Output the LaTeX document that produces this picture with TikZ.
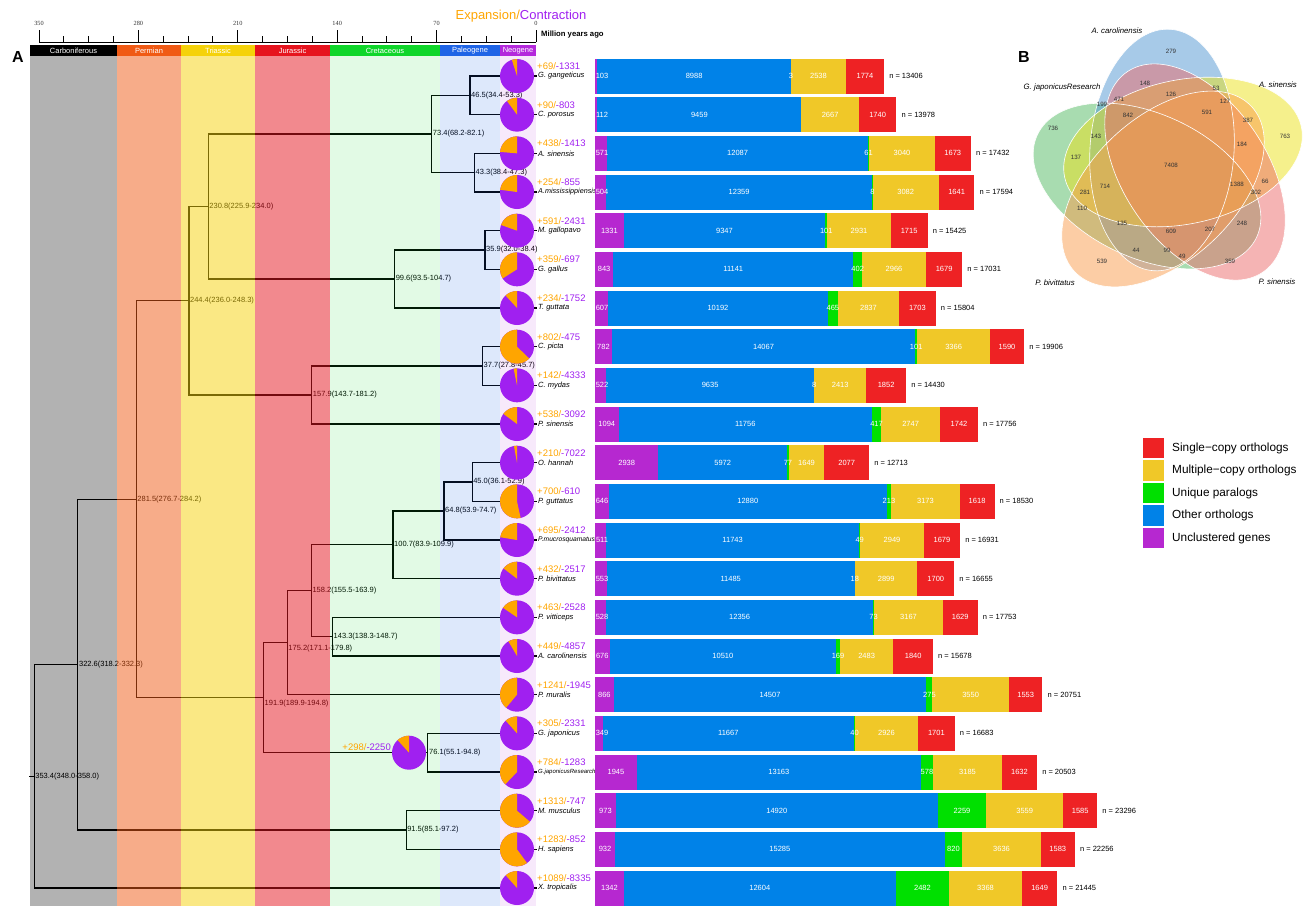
\documentclass[tikz,border=0pt]{standalone}
\usepackage{fontspec}
\setmainfont{Liberation Sans}
\newfontfamily\serifaxis{Liberation Serif}
\definecolor{piepu}{RGB}{160,32,240}
\definecolor{pieor}{RGB}{255,165,0}
\definecolor{uncl}{RGB}{182,40,208}
\definecolor{other}{RGB}{0,130,232}
\definecolor{uniq}{RGB}{0,224,0}
\definecolor{multi}{RGB}{240,200,40}
\definecolor{single}{RGB}{238,34,36}
\definecolor{perm}{RGB}{240,90,20}
\definecolor{tria}{RGB}{245,210,10}
\definecolor{jura}{RGB}{230,20,30}
\definecolor{cret}{RGB}{15,214,42}
\definecolor{pale}{RGB}{30,100,230}
\definecolor{neog}{RGB}{180,40,220}
\definecolor{vblue}{RGB}{80,150,210}
\definecolor{vyellow}{RGB}{235,225,25}
\definecolor{vgreen}{RGB}{81,185,97}
\definecolor{vpink}{RGB}{235,105,105}
\definecolor{vorange}{RGB}{249,155,75}
\begin{document}
\begin{tikzpicture}[x=1pt,y=-1pt,
  branch/.style={line width=1.1pt},
  nodelab/.style={anchor=west,inner sep=1pt,font=\fontsize{7.5}{8}\selectfont},
  explab/.style={anchor=west,inner sep=0pt,font=\fontsize{9.5}{10}\selectfont},
  splab/.style={anchor=west,inner sep=1pt},
  barnum/.style={text=white,inner sep=0pt,font=\fontsize{7.5}{8}\selectfont},
  nlab/.style={anchor=west,inner sep=0pt,font=\fontsize{7.5}{8}\selectfont},
  period/.style={text=white,inner sep=0pt,font=\fontsize{7.5}{8}\selectfont},
  ticklab/.style={text=black!80,inner sep=0pt,font=\serifaxis\fontsize{6.3}{7}\selectfont},
  leglab/.style={anchor=west,inner sep=0pt,font=\fontsize{11.8}{13}\selectfont},
  vnum/.style={text=black!80,inner sep=0pt,font=\fontsize{6.2}{7}\selectfont},
  vset/.style={inner sep=0pt,font=\itshape\fontsize{7.8}{8}\selectfont},
  panel/.style={inner sep=0pt,font=\bfseries\fontsize{16}{17}\selectfont}]
\useasboundingbox (0,0) rectangle (1306,906);
% leaves and dated nodes
\foreach \n/\r in {ggan/1,cpor/2,asin/3,amis/4,mgal/5,ggal/6,tgut/7,cpic/8,cmyd/9,psin/10,ohan/11,
  pgut/12,pmuc/13,pbiv/14,pvit/15,acar/16,pmur/17,gjap/18,gjar/19,mmus/20,hsap/21,xtro/22}
  \coordinate (\n) at (537,{76+(\r-1)*38.667});
\foreach \n/\t/\y/\ci/\dy in {n353/353.4/776.3/348.0-358.0/0, n322/322.6/664.6/318.2-332.3/0,
  n281/281.5/499.2/276.7-284.2/0, n244/244.4/300.8/236.0-248.3/0, n230/230.8/206.5/225.9-234.0/0,
  n157/157.9/395/143.7-181.2/0, n191/191.9/697.7/189.9-194.8/6, n175/175.2/642.7/171.1-179.8/6,
  n158/158.2/590.8/155.5-163.9/0, n143/143.3/636.7/138.3-148.7/0, n100/100.7/544.8/83.9-109.9/0,
  n99/99.6/279/93.5-104.7/0, n91/91.5/830/85.1-97.2/0, n76/76.1/752.7/55.1-94.8/0,
  n73/73.4/134/68.2-82.1/0, n64/64.8/511/53.9-74.7/0, n46/46.5/95.3/34.4-53.3/0,
  n45/45.0/482/36.1-52.9/0, n43/43.3/172.7/38.4-47.3/0, n37/37.7/366/27.8-45.7/0,
  n35/35.9/250/32.0-38.4/0}{
  \coordinate (\n) at ({536-1.42*\t},\y);
  \node[nodelab] (l\n) at ([yshift=-\dy pt]\n) {\t(\ci)};
}
\foreach \p/\c in {n353/n322, n353/xtro, n322/n281, n322/n91, n91/mmus, n91/hsap, n281/n244,
  n281/n191, n244/n230, n244/n157, n230/n73, n230/n99, n73/n46, n73/n43, n46/ggan, n46/cpor,
  n43/asin, n43/amis, n99/n35, n99/tgut, n35/mgal, n35/ggal, n157/n37, n157/psin, n37/cpic,
  n37/cmyd, n191/n175, n191/n76, n175/n158, n175/pmur, n158/n100, n158/n143, n100/n64,
  n100/pbiv, n64/n45, n64/pmuc, n45/ohan, n45/pgut, n143/pvit, n143/acar, n76/gjap, n76/gjar}
  \draw[branch] (\p) |- (\c);
\draw[branch] (n353) -- ++(-5,0);
% geological time scale
\foreach \xa/\xb/\col/\op/\nm in {30/117/black/.3/Carboniferous, 117/181/perm/.5/Permian,
  181/255/tria/.5/Triassic, 255/330/jura/.5/Jurassic, 330/440/cret/.12/Cretaceous,
  440/500/pale/.15/Paleogene, 500/536/neog/.1/Neogene}{
  \fill[\col,opacity=\op] (\xa,56) rectangle (\xb,906);
  \fill[\col] (\xa,45) rectangle (\xb,56);
  \node[period] (p\nm) at ({(\xa+\xb)/2},50.5) {\nm};
}
\draw[line width=1pt] (39,42) -- (536,42);
\foreach \t in {0,17.5,...,350}
  \draw[line width=1pt] ({536-1.42*\t},42) -- ++(0,-6);
\foreach \t in {0,70,...,350}{
  \draw[line width=1pt] ({536-1.42*\t},42) -- ++(0,-12);
  \node[ticklab] (t\t) at ({536-1.42*\t},23) {\t};
}
\node[anchor=west,inner sep=0pt,font=\bfseries\fontsize{7.7}{8}\selectfont] (mya) at (541,35) {Million years ago};
\node[inner sep=0pt,font=\fontsize{13}{14}\selectfont] (title) at (521,16)
  {\textcolor{pieor}{Expansion/}\textcolor{piepu}{Contraction}};
\node[panel] (pA) at (18,57) {A};
\node[panel] (pB) at (1024,57) {B};
% pies with gains and losses
\foreach \n/\e/\k/\spn/\fs in {ggan/69/1331/G. gangeticus/7.5, cpor/90/803/C. porosus/7.5,
  asin/438/1413/A. sinensis/7.5, amis/254/855/A.mississippiensis/7.2, mgal/591/2431/M. gallopavo/7.5,
  ggal/359/697/G. gallus/7.5, tgut/234/1752/T. guttata/7.5, cpic/802/475/C. picta/7.5,
  cmyd/142/4333/C. mydas/7.5, psin/538/3092/P. sinensis/7.5, ohan/210/7022/O. hannah/7.5,
  pgut/700/610/P. guttatus/7.5, pmuc/695/2412/P.mucrosquamatus/6.7, pbiv/432/2517/P. bivittatus/7.5,
  pvit/463/2528/P. vitticeps/7.5, acar/449/4857/A. carolinensis/7.5, pmur/1241/1945/P. muralis/7.5,
  gjap/305/2331/G. japonicus/7.5, gjar/784/1283/G.japonicusResearch/6, mmus/1313/747/M. musculus/7.5,
  hsap/1283/852/H. sapiens/7.5, xtro/1089/8335/X. tropicalis/7.5}{
  \pgfmathsetmacro\ang{360*(\e/(\e+\k))}
  \fill[piepu] ([xshift=-20pt]\n) circle (17pt);
  \fill[pieor] ([xshift=-20pt]\n) -- ++(90:17pt) arc[start angle=90,delta angle=\ang,radius=17pt] -- cycle;
  \node[explab] (e\n) at ([yshift=10pt]\n) {\textcolor{pieor}{+\e/}\textcolor{piepu}{-\k}};
  \node[splab,font=\itshape\fontsize{\fs}{\fs}\selectfont] (s\n) at (\n) {\spn};
}
\coordinate (gpie) at (409,752.7);
\pgfmathsetmacro\ang{360*(298/2548)}
\fill[piepu] (gpie) circle (17pt);
\fill[pieor] (gpie) -- ++(90:17pt) arc[start angle=90,delta angle=\ang,radius=17pt] -- cycle;
\node[explab,anchor=east] (egpie) at (391,747) {\textcolor{pieor}{+298/}\textcolor{piepu}{-2250}};
% gene family bars
\foreach \r/\pu/\bl/\gr/\ye/\re/\tot in {1/103/8988/3/2538/1774/13406, 2/112/9459/0/2667/1740/13978,
  3/571/12087/61/3040/1673/17432, 4/504/12359/8/3082/1641/17594, 5/1331/9347/101/2931/1715/15425,
  6/843/11141/402/2966/1679/17031, 7/607/10192/465/2837/1703/15804, 8/782/14067/101/3366/1590/19906,
  9/522/9635/8/2413/1852/14430, 10/1094/11756/417/2747/1742/17756, 11/2938/5972/77/1649/2077/12713,
  12/646/12880/213/3173/1618/18530, 13/511/11743/49/2949/1679/16931, 14/553/11485/18/2899/1700/16655,
  15/528/12356/73/3167/1629/17753, 16/676/10510/169/2483/1840/15678, 17/866/14507/275/3550/1553/20751,
  18/349/11667/40/2926/1701/16683, 19/1945/13163/578/3185/1632/20503, 20/973/14920/2259/3559/1585/23296,
  21/932/15285/820/3636/1583/22256, 22/1342/12604/2482/3368/1649/21445}{
  \pgfmathsetmacro\y{76+(\r-1)*38.667}
  \pgfmathsetmacro\xa{595+0.02156*\pu}
  \pgfmathsetmacro\xb{\xa+0.02156*\bl}
  \pgfmathsetmacro\xc{\xb+0.02156*\gr}
  \pgfmathsetmacro\xd{\xc+0.02156*\ye}
  \pgfmathsetmacro\xe{\xd+0.02156*\re}
  \fill[uncl] (595,{\y-17.5}) rectangle (\xa,{\y+17.5});
  \fill[other] (\xa,{\y-17.5}) rectangle (\xb,{\y+17.5});
  \fill[uniq] (\xb,{\y-17.5}) rectangle (\xc,{\y+17.5});
  \fill[multi] (\xc,{\y-17.5}) rectangle (\xd,{\y+17.5});
  \fill[single] (\xd,{\y-17.5}) rectangle (\xe,{\y+17.5});
  \node[barnum] (a\r) at ({max((595+\xa)/2,602)},\y) {\pu};
  \node[barnum] (b\r) at ({(\xa+\xb)/2},\y) {\bl};
  \ifnum\gr>0 \node[barnum] (c\r) at ({(\xb+\xc)/2},\y) {\gr};\fi
  \node[barnum] (d\r) at ({(\xc+\xd)/2},\y) {\ye};
  \node[barnum] (f\r) at ({(\xd+\xe)/2},\y) {\re};
  \node[nlab] (tot\r) at ({\xe+5},\y) {n = \tot};
}
% legend
\foreach \i/\col/\txt in {0/single/Single−copy orthologs, 1/multi/Multiple−copy orthologs,
  2/uniq/Unique paralogs, 3/other/Other orthologs, 4/uncl/Unclustered genes}{
  \fill[\col] (1143,{437.7+\i*22.5}) rectangle ++(21,20.6);
  \node[leglab] (leg\i) at (1172,{448+\i*22.5}) {\txt};
}
% venn
\foreach \col/\cx/\cy/\ang in {vgreen/1147/186/-25, vblue/1162/150/86, vyellow/1183/152/12,
  vpink/1195/172/-56, vorange/1163/189/43}
  \fill[\col,opacity=.5,rotate around={\ang:(\cx,\cy)}] (\cx,\cy) ellipse [x radius=121pt,y radius=72pt];
\foreach \cx/\cy/\ang in {1147/186/-25, 1162/150/86, 1195/172/-56, 1183/152/12, 1163/189/43}
  \draw[white,line width=.6pt,rotate around={\ang:(\cx,\cy)}] (\cx,\cy) ellipse [x radius=121pt,y radius=72pt];
\foreach \v/\x/\y in {279/1171/51, 148/1145/83, 53/1216/88, 471/1119/99, 126/1171/94, 127/1225/101,
  199/1102/104, 842/1128/115, 591/1207/112, 387/1248/120, 736/1053/128, 143/1096/136, 184/1242/144,
  763/1285/136, 137/1076/157, 7408/1171/165, 1388/1237/184, 66/1265/181, 714/1105/186, 281/1085/192,
  302/1256/192, 110/1082/208, 135/1122/223, 248/1242/223, 609/1171/231, 207/1210/229, 44/1136/250,
  99/1167/250, 49/1182/256, 539/1102/261, 359/1230/261}
  \node[vnum] (v\v) at (\x,\y) {\v};
\node[vset] (sacar) at (1117,31) {A. carolinensis};
\node[vset] (sasin) at (1278,85) {A. sinensis};
\node[vset] (sgjar) at (1062,87) {G. japonicusResearch};
\node[vset] (spbiv) at (1055,283) {P. bivittatus};
\node[vset] (spsin) at (1277,282) {P. sinensis};
\end{tikzpicture}
\end{document}
